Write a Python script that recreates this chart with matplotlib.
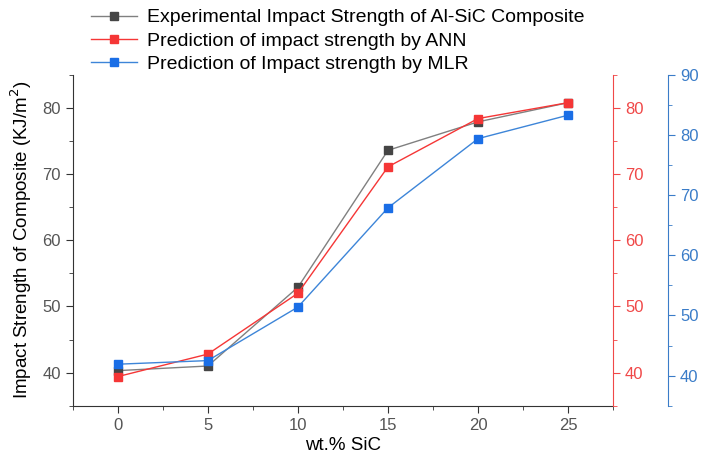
import matplotlib.pyplot as plt
from matplotlib.ticker import MultipleLocator

plt.rcParams["font.family"] = "Liberation Sans"

wt_sic = [0, 5, 10, 15, 20, 25]
experimental = [40.3, 41.0, 52.9, 73.6, 77.9, 80.8]
ann = [39.4, 42.8, 52.0, 71.1, 78.4, 80.8]
mlr = [41.9, 42.5, 51.4, 67.9, 79.4, 83.3]

GREY = '#454545'
RED = '#f53636'
BLUE = '#1a6ee6'
RED_AX = '#f04848'
BLUE_AX = '#3a7cc8'

fig = plt.figure(figsize=(7.13, 4.65), dpi=100)
ax = fig.add_axes([0.102, 0.1275, 0.758, 0.7115])
ax2 = ax.twinx()
ax3 = ax.twinx()
# outer blue axis sits about 55 px right of the red one
ax3.spines['right'].set_position(('axes', 1.102))

l1, = ax.plot(wt_sic, experimental, color='#808080', lw=1.0, marker='s', ms=6,
              mfc=GREY, mec=GREY, label='Experimental Impact Strength of Al-SiC Composite')
l2, = ax2.plot(wt_sic, ann, color=RED, lw=1.0, marker='s', ms=6,
               mfc=RED, mec=RED, label='Prediction of impact strength by ANN')
l3, = ax3.plot(wt_sic, mlr, color='#3d85d8', lw=1.0, marker='s', ms=6,
               mfc=BLUE, mec=BLUE, label='Prediction of Impact strength by MLR')

ax.set_xlim(-2.5, 27.5)
ax.set_ylim(35, 85)
ax2.set_ylim(35, 85)
ax3.set_ylim(35, 90)

for a in (ax, ax2, ax3):
    a.spines['top'].set_visible(False)
ax2.spines['left'].set_visible(False)
ax3.spines['left'].set_visible(False)
ax.spines['right'].set_visible(False)
ax2.spines['bottom'].set_visible(False)
ax3.spines['bottom'].set_visible(False)

for sp in ('left', 'bottom'):
    ax.spines[sp].set_color('#333333')
ax2.spines['right'].set_color(RED_AX)
ax3.spines['right'].set_color(BLUE_AX)

ax.xaxis.set_major_locator(MultipleLocator(5))
ax.xaxis.set_minor_locator(MultipleLocator(2.5))
for a in (ax, ax2, ax3):
    a.yaxis.set_major_locator(MultipleLocator(10))
    a.yaxis.set_minor_locator(MultipleLocator(5))

for a, c, lc in ((ax, '#333333', '#555555'), (ax2, RED_AX, RED_AX), (ax3, BLUE_AX, BLUE_AX)):
    a.tick_params(which='both', direction='out', colors=c, labelcolor=lc, labelsize=12)
    a.tick_params(which='major', length=5)
    a.tick_params(which='minor', length=3)

ax.set_xlabel('wt.% SiC', fontsize=13.5, labelpad=3)
ax.set_ylabel('Impact Strength of Composite (KJ/m$^2$)', fontsize=13.5, labelpad=6)

fig.legend(handles=[l1, l2, l3], loc='upper left', bbox_to_anchor=(0.115, 1.0),
           frameon=False, fontsize=14, handlelength=2.4, handletextpad=0.5,
           labelspacing=0.3, borderaxespad=0.05)

fig.savefig('out.png', dpi=100)
